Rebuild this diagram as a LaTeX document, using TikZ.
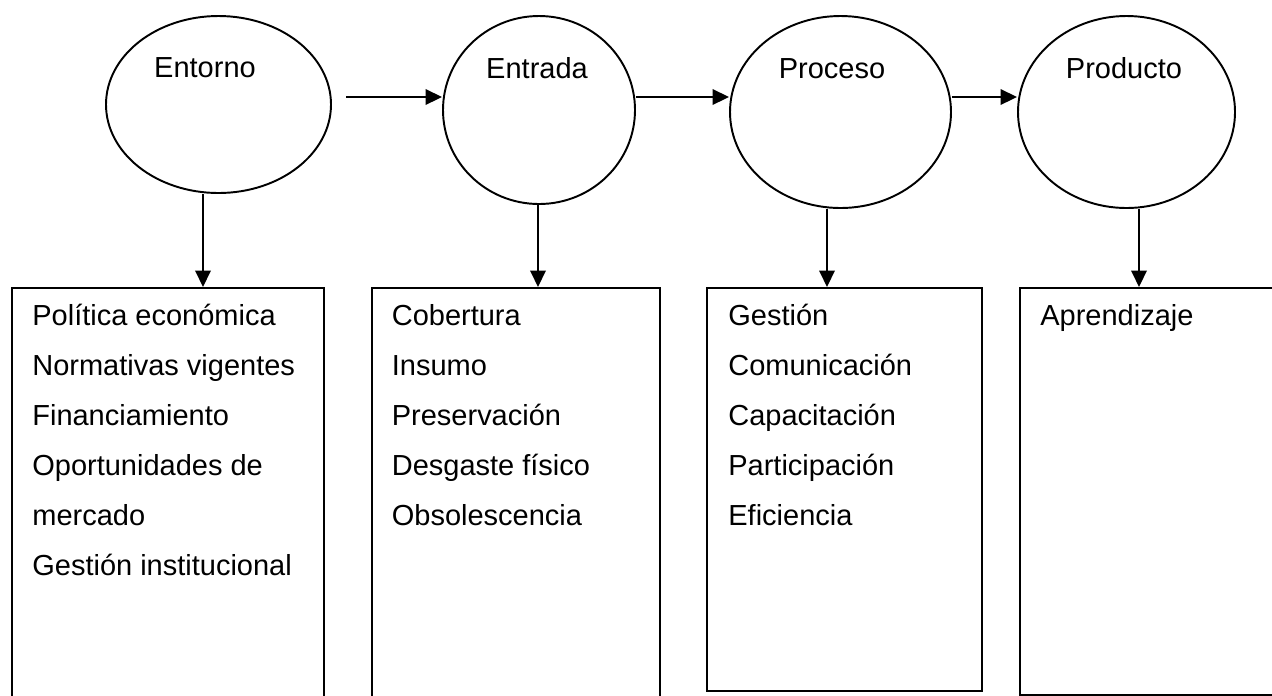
\documentclass[tikz,border=0pt]{standalone}
\usepackage{fontspec}
\setmainfont{Liberation Sans}
\usetikzlibrary{shapes.geometric,arrows.meta}

\tikzset{
    etapa/.style={ellipse, draw, line width=1.1pt, inner sep=0pt},
    caja/.style={rectangle, draw, line width=1.1pt, anchor=north west, inner sep=0pt},
    titulo/.style={anchor=base, inner sep=0pt, font=\fontsize{16.5}{20}\selectfont},
    item/.style={anchor=base west, inner sep=0pt, font=\fontsize{16.5}{20}\selectfont},
    flecha/.style={line width=1.1pt, -{Triangle[length=0.33cm, width=0.31cm]}}
}

\begin{document}
\begin{tikzpicture}
    \useasboundingbox (0, 0) rectangle (25.44, -13.9);
    \clip (0, 0) rectangle (25.44, -13.9);
    % Etapas
    \node[etapa, minimum width=4.5cm, minimum height=3.54cm] (entorno) at (4.37, -2.09) {};
    \node[etapa, minimum width=3.84cm, minimum height=3.76cm] (entrada) at (10.78, -2.2) {};
    \node[etapa, minimum width=4.42cm, minimum height=3.84cm] (proceso) at (16.81, -2.24) {};
    \node[etapa, minimum width=4.34cm, minimum height=3.84cm] (producto) at (22.53, -2.24) {};
    \node[titulo] (entornoT) at (4.1, -1.54) {Entorno};
    \node[titulo] (entradaT) at (10.74, -1.57) {Entrada};
    \node[titulo] (procesoT) at (16.64, -1.57) {Proceso};
    \node[titulo] (productoT) at (22.48, -1.57) {Producto};

    % Flechas horizontales
    \coordinate (fila) at (6.92, -1.94);
    \draw[flecha] (fila) -- (fila -| entrada.west);
    \draw[flecha] (entrada.east |- fila) -- (proceso.west |- fila);
    \draw[flecha] (proceso.east |- fila) -- (producto.west |- fila);

    % Cajas
    \node[caja, minimum width=6.24cm, minimum height=8.8cm] (cajaEntorno) at (0.22, -5.74) {};
    \node[caja, minimum width=5.76cm, minimum height=8.8cm] (cajaEntrada) at (7.42, -5.74) {};
    \node[caja, minimum width=5.5cm, minimum height=8.06cm] (cajaProceso) at (14.12, -5.74) {};
    \node[caja, minimum width=7cm, minimum height=8.14cm] (cajaProducto) at (20.38, -5.74) {};

    % Flechas verticales
    \draw[flecha] ([xshift=-0.31cm]entorno.south) -- ([xshift=-0.31cm]entorno.south |- cajaEntorno.north);
    \draw[flecha] ([xshift=-0.02cm]entrada.south) -- ([xshift=-0.02cm]entrada.south |- cajaEntrada.north);
    \draw[flecha] ([xshift=-0.27cm]proceso.south) -- ([xshift=-0.27cm]proceso.south |- cajaProceso.north);
    \draw[flecha] ([xshift=0.25cm]producto.south) -- ([xshift=0.25cm]producto.south |- cajaProducto.north);

    % Contenido
    \foreach \t [count=\i] in {Política económica, Normativas vigentes, Financiamiento,
            Oportunidades de, mercado, Gestión institucional}
        \node[item] (entorno\i) at (0.64, {-6.5 - (\i - 1)}) {\t};
    \foreach \t [count=\i] in {Cobertura, Insumo, Preservación, Desgaste físico, Obsolescencia}
        \node[item] (entrada\i) at (7.83, {-6.5 - (\i - 1)}) {\t};
    \foreach \t [count=\i] in {Gestión, Comunicación, Capacitación, Participación, Eficiencia}
        \node[item] (proceso\i) at (14.56, {-6.5 - (\i - 1)}) {\t};
    \node[item] (producto1) at (20.8, -6.5) {Aprendizaje};
\end{tikzpicture}
\end{document}
